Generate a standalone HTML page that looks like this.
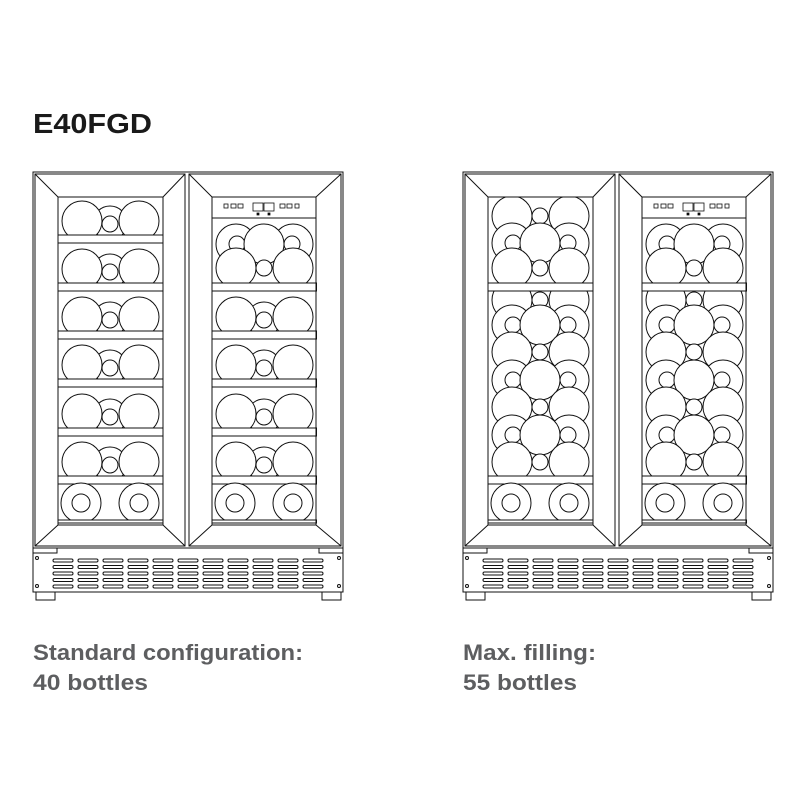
<!DOCTYPE html>
<html><head><meta charset="utf-8"><style>
html,body{margin:0;padding:0;background:#fff;}
svg{display:block;}
</style></head><body>
<svg width="800" height="800" viewBox="0 0 800 800" xmlns="http://www.w3.org/2000/svg">
<defs>
  <g id="doorL">
    <rect x="35" y="174" width="150" height="372" fill="none"/>
    <rect x="58" y="197" width="105" height="328" fill="none"/>
    <line x1="35" y1="174" x2="58" y2="197"/><line x1="185" y1="174" x2="163" y2="197"/>
    <line x1="35" y1="546" x2="58" y2="525"/><line x1="185" y1="546" x2="163" y2="525"/>
  </g>
  <g id="doorR">
    <rect x="189" y="174" width="152" height="372" fill="none"/>
    <rect x="212" y="197" width="104" height="328" fill="none"/>
    <line x1="189" y1="174" x2="212" y2="197"/><line x1="341" y1="174" x2="316" y2="197"/>
    <line x1="189" y1="546" x2="212" y2="525"/><line x1="341" y1="546" x2="316" y2="525"/>
    <line x1="212" y1="218" x2="316" y2="218"/>
    <g stroke-width="0.8">
      <rect x="224" y="204" width="4" height="4" fill="none"/>
      <rect x="231" y="204" width="5" height="4" fill="none"/>
      <rect x="238" y="204" width="5" height="4" fill="none"/>
      <rect x="253" y="203" width="10" height="8" fill="none"/>
      <rect x="264" y="203" width="10" height="8" fill="none"/>
      <rect x="280" y="204" width="5" height="4" fill="none"/>
      <rect x="287" y="204" width="5" height="4" fill="none"/>
      <rect x="295" y="204" width="4" height="4" fill="none"/>
      <rect x="257" y="213" width="2" height="2" fill="#000"/>
      <rect x="268" y="213" width="2" height="2" fill="#000"/>
    </g>
  </g>
  <g id="row3">
    <circle cx="0" cy="0" r="17"/>
    <circle cx="-28" cy="-2" r="20"/>
    <circle cx="29" cy="-2" r="20"/>
    <circle cx="0" cy="1" r="8"/>
  </g>
  <g id="front2">
    <circle cx="-29" cy="0" r="20"/><circle cx="-29" cy="0" r="9"/>
    <circle cx="29" cy="0" r="20"/><circle cx="29" cy="0" r="9"/>
  </g>
  <g id="cLayer">
    <circle cx="-28" cy="0" r="20"/><circle cx="29" cy="0" r="20"/>
    <circle cx="-27" cy="0" r="8"/><circle cx="28" cy="0" r="8"/>
    <circle cx="0" cy="0" r="20"/>
  </g>
  <g id="oLayer">
    <circle cx="0" cy="0" r="8"/>
    <circle cx="-28" cy="0" r="20"/><circle cx="29" cy="0" r="20"/>
  </g>
  <g id="base">
    <rect x="33" y="548" width="310" height="44" fill="none"/>
    <polyline points="33,553 57,553 57,548" fill="none"/>
    <polyline points="343,553 319,553 319,548" fill="none"/>
    <rect x="36" y="592" width="19" height="8" fill="none"/>
    <rect x="322" y="592" width="19" height="8" fill="none"/>
    <circle cx="37" cy="558" r="1.5" fill="none"/><circle cx="37" cy="586" r="1.5" fill="none"/>
    <circle cx="339" cy="558" r="1.5" fill="none"/><circle cx="339" cy="586" r="1.5" fill="none"/>
    <g id="ventcol">
      <rect x="53" y="559" width="20" height="3" rx="1.5" fill="none"/>
      <rect x="53" y="565.5" width="20" height="3" rx="1.5" fill="none"/>
      <rect x="53" y="572" width="20" height="3" rx="1.5" fill="none"/>
      <rect x="53" y="578.5" width="20" height="3" rx="1.5" fill="none"/>
      <rect x="53" y="585" width="20" height="3" rx="1.5" fill="none"/>
    </g>
    <use href="#ventcol" x="25"/><use href="#ventcol" x="50"/><use href="#ventcol" x="75"/>
    <use href="#ventcol" x="100"/><use href="#ventcol" x="125"/><use href="#ventcol" x="150"/>
    <use href="#ventcol" x="175"/><use href="#ventcol" x="200"/><use href="#ventcol" x="225"/>
    <use href="#ventcol" x="250"/>
  </g>
  <g id="bottomRow">
    <rect x="0" y="476" width="105" height="8" fill="#fff"/>
    <use href="#front2" x="52" y="503"/>
    <rect x="0" y="520" width="105" height="3" fill="#fff"/>
  </g>
  <g id="topRow3">
    <use href="#oLayer" x="52" y="216"/>
    <use href="#cLayer" x="52" y="243"/>
    <use href="#oLayer" x="52" y="268"/>
  </g>
  <g id="midMax">
    <use href="#oLayer" x="52" y="300"/>
    <use href="#cLayer" x="52" y="325"/>
    <use href="#oLayer" x="52" y="352"/>
    <use href="#cLayer" x="52" y="380"/>
    <use href="#oLayer" x="52" y="407"/>
    <use href="#cLayer" x="52" y="435"/>
    <use href="#oLayer" x="52" y="462"/>
  </g>
  <g id="shelf"><rect x="0" y="0" width="105" height="8" fill="#fff"/></g>
</defs>

<text x="33" y="133" font-family="Liberation Sans, sans-serif" font-weight="bold" font-size="28" fill="#1a1a1a" textLength="119" lengthAdjust="spacingAndGlyphs">E40FGD</text>

<g stroke="#111" stroke-width="1" fill="#fff">
  <!-- LEFT UNIT -->
  <use href="#row3" x="110" y="223"/>
  <use href="#row3" x="110" y="271"/>
  <use href="#row3" x="110" y="319"/>
  <use href="#row3" x="110" y="367"/>
  <use href="#row3" x="110" y="416"/>
  <use href="#row3" x="110" y="464"/>
  <use href="#shelf" x="58" y="235"/><use href="#shelf" x="58" y="283"/>
  <use href="#shelf" x="58" y="331"/><use href="#shelf" x="58" y="379"/>
  <use href="#shelf" x="58" y="428"/>
  <use href="#bottomRow" x="58"/>
  <use href="#cLayer" x="264" y="244"/>
  <use href="#oLayer" x="264" y="268"/>
  <use href="#row3" x="264" y="319"/>
  <use href="#row3" x="264" y="367"/>
  <use href="#row3" x="264" y="416"/>
  <use href="#row3" x="264" y="464"/>
  <use href="#shelf" x="212" y="283"/>
  <use href="#shelf" x="212" y="331"/><use href="#shelf" x="212" y="379"/>
  <use href="#shelf" x="212" y="428"/>
  <use href="#bottomRow" x="212"/>
  <rect x="213" y="173" width="102" height="44.5" fill="#fff" stroke="none"/>
  <rect x="59" y="173" width="103" height="23.5" fill="#fff" stroke="none"/>
  <rect x="36" y="173" width="21" height="372" fill="#fff" stroke="none"/>
  <rect x="164" y="173" width="47" height="372" fill="#fff" stroke="none"/>
  <rect x="317" y="173" width="23" height="372" fill="#fff" stroke="none"/>
  <rect x="33" y="172" width="310" height="376" fill="none"/>
  <use href="#doorL"/><use href="#doorR"/>
  <use href="#base"/>

  <!-- RIGHT UNIT -->
  <g transform="translate(430,0)">
    <use href="#midMax" x="58"/>
    <use href="#topRow3" x="58"/>
    <use href="#shelf" x="58" y="283"/>
    <use href="#bottomRow" x="58"/>
    <use href="#midMax" x="212"/>
    <use href="#cLayer" x="264" y="244"/>
    <use href="#oLayer" x="264" y="268"/>
    <use href="#shelf" x="212" y="283"/>
    <use href="#bottomRow" x="212"/>
    <rect x="213" y="173" width="102" height="44.5" fill="#fff" stroke="none"/>
    <rect x="59" y="173" width="103" height="23.5" fill="#fff" stroke="none"/>
    <rect x="36" y="173" width="21" height="372" fill="#fff" stroke="none"/>
    <rect x="164" y="173" width="47" height="372" fill="#fff" stroke="none"/>
    <rect x="317" y="173" width="23" height="372" fill="#fff" stroke="none"/>
    <rect x="33" y="172" width="310" height="376" fill="none"/>
    <use href="#doorL"/><use href="#doorR"/>
    <use href="#base"/>
  </g>
</g>

<g font-family="Liberation Sans, sans-serif" font-weight="bold" font-size="22" fill="#5d5e60">
  <text x="33" y="660" textLength="270" lengthAdjust="spacingAndGlyphs">Standard configuration:</text>
  <text x="33" y="690" textLength="115" lengthAdjust="spacingAndGlyphs">40 bottles</text>
  <text x="463" y="660" textLength="133" lengthAdjust="spacingAndGlyphs">Max. filling:</text>
  <text x="463" y="690" textLength="114" lengthAdjust="spacingAndGlyphs">55 bottles</text>
</g>
</svg>
</body></html>
